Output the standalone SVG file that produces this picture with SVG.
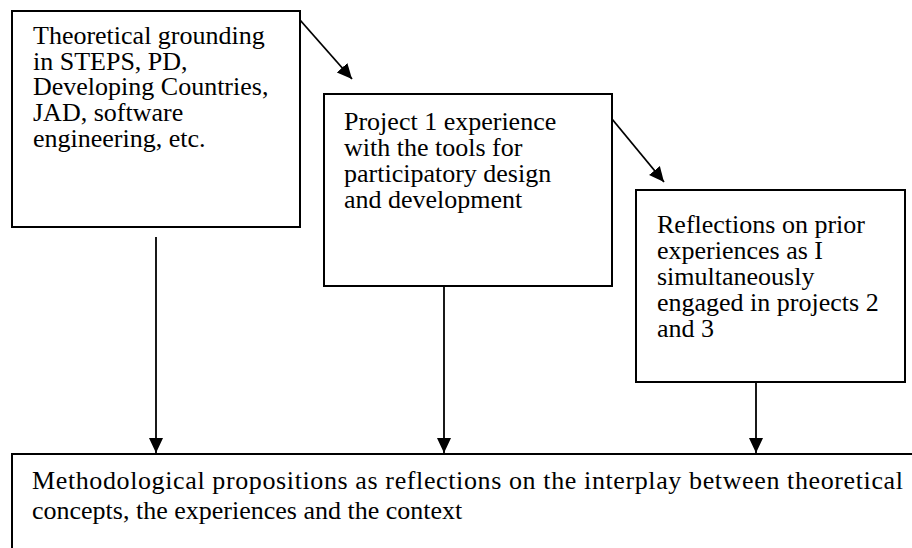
<svg xmlns="http://www.w3.org/2000/svg" width="912" height="548" viewBox="0 0 912 548">
  <style>
    .box { fill: #ffffff; stroke: #000000; stroke-width: 2; }
    .label { font-family: "Times New Roman", "Liberation Serif", "DejaVu Serif", serif; font-size: 26px; fill: #000000; }
    .edge { stroke: #000000; stroke-width: 1.8; fill: none; marker-end: url(#head); }
  </style>
  <defs>
    <marker id="head" markerUnits="userSpaceOnUse" markerWidth="16" markerHeight="16" viewBox="0 0 16 16" refX="15" refY="8" orient="auto">
      <path d="M0,1 L15,8 L0,15 Z" fill="#000000"/>
    </marker>
  </defs>

  <rect width="912" height="548" fill="#ffffff"/>

  <!-- connectors -->
  <g id="connectors">
    <line class="edge" x1="300" y1="20" x2="352" y2="79"/>
    <line class="edge" x1="612" y1="119" x2="664" y2="182"/>
    <line class="edge" x1="156" y1="237" x2="156" y2="453"/>
    <line class="edge" x1="444" y1="286" x2="444" y2="453"/>
    <line class="edge" x1="756" y1="382" x2="756" y2="453"/>
  </g>

  <!-- theory -->
  <g id="theory">
    <rect class="box" x="12" y="11" width="288" height="216"/>
    <text class="label" x="33" y="44">Theoretical grounding</text>
    <text class="label" x="33" y="70">in STEPS, PD,</text>
    <text class="label" x="33" y="95">Developing Countries,</text>
    <text class="label" x="33" y="121">JAD, software</text>
    <text class="label" x="33" y="147">engineering, etc.</text>
  </g>

  <!-- project 1 -->
  <g id="project1">
    <rect class="box" x="324" y="94" width="288" height="192"/>
    <text class="label" x="344" y="130">Project 1 experience</text>
    <text class="label" x="344" y="156">with the tools for</text>
    <text class="label" x="344" y="182">participatory design</text>
    <text class="label" x="344" y="208">and development</text>
  </g>

  <!-- reflections -->
  <g id="reflections">
    <rect class="box" x="636" y="190" width="269" height="192"/>
    <text class="label" x="657" y="233">Reflections on prior</text>
    <text class="label" x="657" y="259">experiences as I</text>
    <text class="label" x="657" y="285">simultaneously</text>
    <text class="label" x="657" y="311">engaged in projects 2</text>
    <text class="label" x="657" y="337">and 3</text>
  </g>

  <!-- propositions -->
  <g id="propositions">
    <rect class="box" x="12" y="454" width="920" height="120"/>
    <text class="label" x="32" y="489" textLength="871" lengthAdjust="spacing">Methodological propositions as reflections on the interplay between theoretical</text>
    <text class="label" x="32" y="519">concepts, the experiences and the context</text>
  </g>
</svg>
